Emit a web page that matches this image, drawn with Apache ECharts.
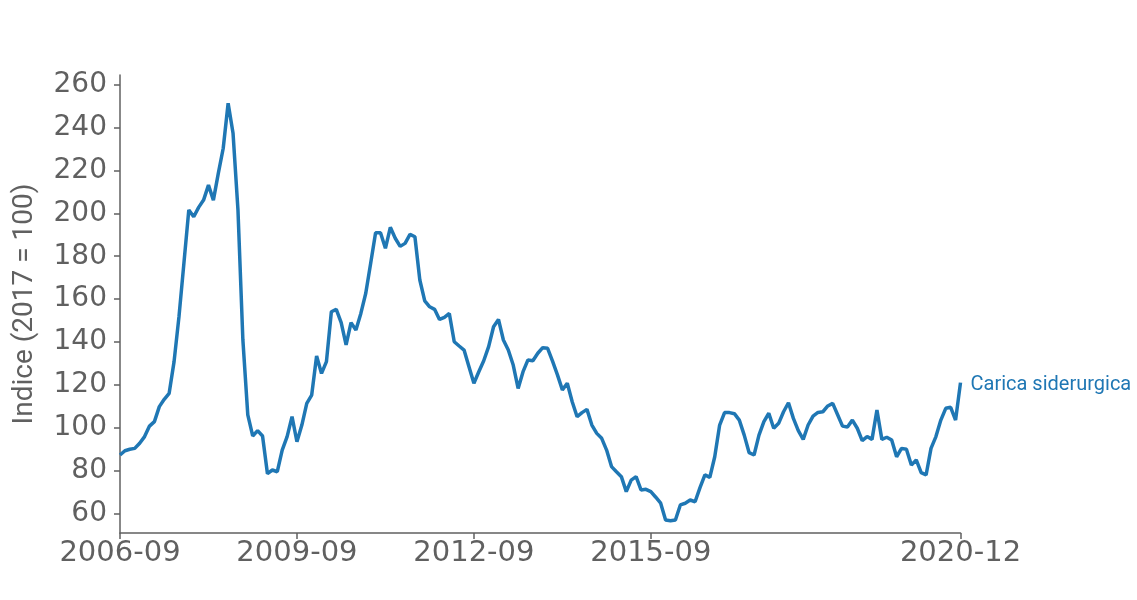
<!DOCTYPE html>
<html>
<head>
<meta charset="utf-8">
<script src="https://cdn.jsdelivr.net/npm/echarts@6/dist/echarts.min.js"></script>
<style>
html,body{margin:0;padding:0;background:#fff;}
#chart{width:1137px;height:600px;}
</style>
</head>
<body>
<div id="chart"></div>
<script>
// Monthly index values, 2006-09 .. 2020-12 (2017 = 100)
const startYear = 2006, startMonth = 9, endYear = 2020, endMonth = 12;
const values = [
  87.2, 89.2, 89.9, 90.3, 92.7, 95.8, 100.7, 102.8, 109.8, 113.2,
  116.0, 130.8, 151.8, 176.7, 201.6, 198.4, 202.8, 206.2, 213.2, 206.2,
  218.7, 230.4, 251.4, 237.4, 201.6, 140.9, 105.9, 96.1, 98.6, 96.1,
  78.5, 80.2, 79.4, 89.5, 95.8, 105.1, 93.4, 101.2, 111.3, 115.2,
  133.4, 125.3, 130.8, 154.1, 155.2, 149.0, 138.6, 149.0, 145.6, 153.3,
  162.7, 176.7, 191.0, 191.0, 183.7, 193.5, 188.4, 184.6, 186.0, 190.2,
  189.1, 168.9, 159.2, 156.4, 155.2, 150.5, 151.5, 153.3, 140.1, 138.1,
  136.2, 128.4, 120.7, 126.1, 131.2, 137.8, 147.1, 150.5, 140.9, 136.2,
  129.2, 118.3, 126.1, 131.6, 131.2, 134.7, 137.3, 137.0, 131.0, 124.6,
  117.6, 120.7, 112.1, 105.1, 107.0, 108.5, 101.2, 97.3, 95.0, 89.5,
  81.8, 79.4, 77.1, 70.1, 75.5, 77.1, 70.9, 71.2, 70.1, 67.5,
  64.7, 56.9, 56.5, 56.9, 63.9, 64.7, 66.2, 65.4, 72.0, 77.9,
  76.8, 86.4, 101.2, 107.0, 107.0, 106.5, 103.5, 96.5, 88.3, 87.2,
  96.5, 102.8, 106.7, 99.7, 102.0, 107.4, 111.6, 104.3, 98.6, 94.5,
  101.2, 105.4, 107.1, 107.4, 110.1, 111.3, 106.0, 100.7, 100.3, 103.5,
  99.7, 93.9, 95.8, 94.5, 108.2, 94.5, 95.5, 94.2, 86.4, 90.3,
  89.9, 82.5, 84.9, 79.0, 77.9, 90.3, 95.8, 103.5, 109.0, 109.5,
  103.5, 121.0
];
const xTickLabels = ['2006-09', '2009-09', '2012-09', '2015-09', '2020-12'];
const seriesName = 'Carica siderurgica';
const yAxisTitle = 'Indice (2017 = 100)';

// month categories
const categories = [];
for (let y = startYear, m = startMonth; y < endYear || (y === endYear && m <= endMonth); ) {
  categories.push(y + '-' + String(m).padStart(2, '0'));
  m++; if (m > 12) { m = 1; y++; }
}

const textColor = '#606060';
const axisColor = '#606060';
const lineColor = '#1f77b4';

const chart = echarts.init(document.getElementById('chart'), null, {renderer: 'canvas'});
const showTick = (idx, val) => xTickLabels.indexOf(val) >= 0;

chart.setOption({
  animation: false,
  grid: {left: 120, right: 176.5, top: 75, bottom: 67, containLabel: false, outerBoundsMode: 'none'},
  xAxis: {
    type: 'category',
    data: categories,
    boundaryGap: false,
    axisLine: {show: true, lineStyle: {color: axisColor, width: 1.5}},
    axisTick: {show: true, length: 6, interval: showTick, lineStyle: {color: axisColor, width: 1.5}},
    axisLabel: {
      interval: showTick,
      color: textColor,
      fontFamily: 'DejaVu Sans',
      fontSize: 29,
      margin: 6
    },
    splitLine: {show: false}
  },
  yAxis: {
    type: 'value',
    min: 50.8,
    max: 264.6,
    splitNumber: 10,
    name: yAxisTitle,
    nameLocation: 'middle',
    nameRotate: 90,
    nameGap: 81,
    nameTextStyle: {color: textColor, fontFamily: 'Roboto', fontSize: 28},
    axisLine: {show: true, lineStyle: {color: axisColor, width: 1.5}},
    axisTick: {show: true, length: 6, lineStyle: {color: axisColor, width: 1.5}},
    axisLabel: {
      color: textColor,
      fontFamily: 'DejaVu Sans',
      fontSize: 28,
      margin: 13,
      showMinLabel: false,
      showMaxLabel: false
    },
    splitLine: {show: false}
  },
  series: [{
    name: seriesName,
    type: 'line',
    data: values,
    showSymbol: false,
    symbol: 'none',
    lineStyle: {color: lineColor, width: 3.5},
    itemStyle: {color: lineColor},
    endLabel: {
      show: true,
      formatter: seriesName,
      color: lineColor,
      fontFamily: 'Roboto',
      fontSize: 20,
      distance: 10,
      offset: [0, 2]
    }
  }]
});
</script>
</body>
</html>
